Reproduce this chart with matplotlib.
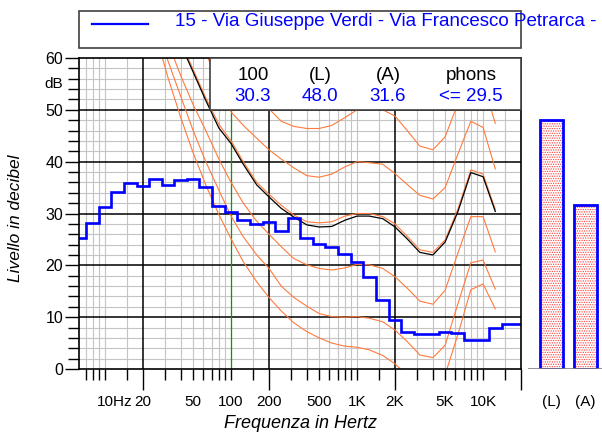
import matplotlib
matplotlib.use("Agg")
import matplotlib.pyplot as plt
import matplotlib.transforms as mtransforms
from matplotlib.patches import Rectangle
from matplotlib.lines import Line2D

plt.rcParams['font.family'] = ['Liberation Sans', 'DejaVu Sans']
plt.rcParams['hatch.linewidth'] = 0.6

# measured 1/3 octave band levels (dB)
bands = [6.3, 8, 10, 12.5, 16, 20, 25, 31.5, 40, 50, 63, 80, 100, 125, 160,
         200, 250, 315, 400, 500, 630, 800, 1000, 1250, 1600, 2000, 2500,
         3150, 4000, 5000, 6300, 8000, 10000, 12500, 16000, 20000]
levels = [25.2, 28.2, 31.2, 34.1, 35.8, 35.4, 36.6, 35.5, 36.5, 36.7, 35.2,
          31.5, 30.3, 28.7, 27.9, 28.4, 26.7, 29.1, 25.3, 24.2, 23.6, 22.1,
          20.7, 17.7, 13.4, 9.5, 7.2, 6.7, 6.7, 7.1, 6.9, 5.6, 5.6, 8.0,
          8.6, 8.7]

# equal loudness contours (dB)
iso_freqs = [20, 25, 31.5, 40, 50, 63, 80, 100, 125, 160, 200, 250, 315, 400,
             500, 630, 800, 1000, 1250, 1600, 2000, 2500, 3150, 4000, 5000,
             6300, 8000, 10000, 12500]
threshold = [74.3, 65.0, 56.3, 48.4, 41.7, 35.5, 29.8, 25.1, 20.7, 16.8, 13.8,
             11.2, 8.9, 7.2, 6.0, 5.0, 4.4, 4.2, 3.7, 2.6, 1.0, -1.2, -3.6,
             -3.9, -1.1, 6.6, 15.3, 16.4, 11.6]
phon10 = [80.0, 70.5, 59.5, 52.5, 46.0, 40.0, 34.5, 29.5, 25.5, 22.0, 19.4,
          16.0, 13.8, 12.1, 10.7, 10.1, 10.0, 10.1, 9.8, 9.1, 7.5, 5.3, 2.7,
          2.2, 4.6, 12.5, 20.5, 21.0, 15.4]
phon20 = [85.0, 74.0, 63.0, 56.5, 51.0, 46.0, 40.5, 36.0, 32.0, 28.5, 26.0,
          23.6, 21.3, 20.1, 19.4, 19.1, 19.5, 20.2, 20.1, 19.4, 17.8, 15.6,
          13.1, 12.5, 15.2, 22.3, 29.4, 29.4, 22.6]
phon30 = [90.0, 80.0, 71.0, 63.0, 57.8, 52.3, 47.2, 44.0, 40.0, 36.0, 33.7,
          31.6, 29.7, 28.4, 28.2, 28.4, 29.5, 30.0, 30.0, 29.4, 28.0, 25.6,
          23.0, 22.5, 24.9, 30.8, 38.4, 37.6, 30.8]
phon40 = [97.0, 87.0, 79.0, 72.0, 66.5, 61.0, 55.0, 49.6, 47.0, 44.5, 42.3,
          40.5, 38.8, 37.3, 37.0, 37.6, 39.0, 40.0, 39.8, 39.5, 37.7, 35.6,
          33.5, 32.8, 35.0, 41.4, 47.8, 46.6, 38.6]
phon50 = [102.0, 92.0, 84.0, 77.0, 71.0, 66.0, 61.0, 57.0, 54.5, 52.0, 50.2,
          47.8, 46.8, 46.4, 46.4, 47.0, 48.5, 50.0, 50.3, 50.0, 48.8, 46.0,
          43.0, 42.3, 44.8, 51.2, 57.5, 55.2, 47.4]
contour_freqs = [40, 50, 63, 80, 100, 125, 160, 200, 250, 315, 400, 500, 630,
                 800, 1000, 1250, 1600, 2000, 2500, 3150, 4000, 5000, 6300,
                 8000, 10000, 12500]
contour = [62.6, 57.3, 51.8, 46.5, 43.5, 39.5, 35.5, 33.2, 31.0, 29.3, 27.8,
           27.4, 27.5, 28.7, 29.5, 29.5, 29.0, 27.4, 25.1, 22.5, 22.0, 24.5,
           30.3, 37.9, 37.1, 30.4]

legend_text = '15 - Via Giuseppe Verdi - Via Francesco Petrarca -'
summary_heads = ['100', '(L)', '(A)', 'phons']
summary_values = ['30.3', '48.0', '31.6', '<= 29.5']
bar_labels = ['(L)', '(A)']
bar_values = [48.0, 31.6]

xtick_freqs = [20, 50, 100, 200, 500, 1000, 2000, 5000, 10000]
xtick_labels = ['20', '50', '100', '200', '500', '1K', '2K', '5K', '10K']

W, H = 602, 434
BLUE = '#0000ff'
ORANGE = '#ff7a3c'
GRAY = '#c4c4c4'


def frame(x0, y0, x1, y1):
    return [x0 / W, 1 - y1 / H, (x1 - x0) / W, (y1 - y0) / H]


fig = plt.figure(figsize=(W / 100, H / 100), dpi=100)
ax = fig.add_axes(frame(79, 58, 521, 369))
ax.set_xscale('log')
ax.set_xlim(6.21, 20000)
ax.set_ylim(0, 60)

# grid
minor_f = [7, 8, 9, 10, 15, 30, 40, 50, 60, 70, 80, 90, 100, 150, 300, 400,
           500, 600, 700, 800, 900, 1000, 1500, 3000, 4000, 5000, 6000, 7000,
           8000, 9000, 10000, 15000]
for f in minor_f:
    ax.axvline(f, color=GRAY, lw=0.8, zorder=0)
for f in [20, 200, 2000]:
    ax.axvline(f, color='black', lw=1.1, zorder=0.5)
for v in range(2, 60, 2):
    if v % 10:
        ax.axhline(v, color=GRAY, lw=0.8, zorder=0)
    else:
        ax.axhline(v, color='black', lw=1.1, zorder=0.5)

ax.axvline(100, color='#00a000', lw=0.9, zorder=1)

for curve in [threshold, phon10, phon20, phon30, phon40, phon50]:
    ax.plot(iso_freqs, curve, color=ORANGE, lw=0.8, zorder=2)
ax.plot(contour_freqs, contour, color='black', lw=0.9, zorder=2.5)

# band edges between neighbouring centres
edges = [bands[0] / 1.26 ** 0.5]
edges += [(a * b) ** 0.5 for a, b in zip(bands[:-1], bands[1:])]
edges += [bands[-1] * 1.26 ** 0.5]
ax.stairs(levels, edges, baseline=None, color=BLUE, lw=1.9, zorder=3)

# summary box
ax.add_patch(Rectangle((0.2964, 50 / 60), 1 - 0.2964, 10 / 60,
                       transform=ax.transAxes, facecolor='white',
                       edgecolor='#404040', lw=1.2, zorder=5, clip_on=False))
for xp, head, val in zip([253, 320, 388, 471], summary_heads, summary_values):
    xf = (xp - 79) / 442
    ax.text(xf, (369 - 75) / 311, head, transform=ax.transAxes, ha='center',
            va='center', fontsize=13.5, color='black', zorder=6)
    ax.text(xf, (369 - 96) / 311, val, transform=ax.transAxes, ha='center',
            va='center', fontsize=13.5, color=BLUE, zorder=6)

# axes ticks
ax.set_xticks([20, 200, 2000, 20000])
ax.set_xticks(minor_f, minor=True)
ax.tick_params(axis='x', which='major', length=15, width=1, labelbottom=False)
ax.tick_params(axis='x', which='minor', length=8, width=1, labelbottom=False)
ax.set_yticks(range(0, 61, 10))
ax.set_yticks(range(0, 61, 2), minor=True)
ax.set_yticklabels(['0', '10', '20', '30', '40', '50', '60'])
ax.tick_params(axis='y', which='major', length=10, width=1, pad=1.5,
               labelsize=11.5)
ax.tick_params(axis='y', which='minor', length=8, width=1)
for s in ax.spines.values():
    s.set_linewidth(1.2)
    s.set_zorder(4)
ax.text(-16 / 442, 55 / 60, 'dB', transform=ax.transAxes, ha='right',
        va='center', fontsize=11)

xtrans = mtransforms.blended_transform_factory(ax.transData, ax.transAxes)
for f, lab in zip(xtick_freqs, xtick_labels):
    ax.text(f, -33 / 311, lab, transform=xtrans, ha='center', va='center',
            fontsize=11)
ax.text(18 / 442, -33 / 311, '10Hz', transform=ax.transAxes, ha='left',
        va='center', fontsize=11)

fig.text(16 / W, 1 - 218 / H, 'Livello in decibel', rotation=90,
         ha='center', va='center', fontsize=12.5, style='italic')
fig.text(301 / W, 1 - 423 / H, 'Frequenza in Hertz', ha='center',
         va='center', fontsize=13, style='italic')

# legend box
fig.add_artist(Rectangle((79 / W, 1 - 48 / H), 442 / W, 37 / H,
                         transform=fig.transFigure, fill=False,
                         edgecolor='#404040', lw=1.2))
fig.add_artist(Line2D([92 / W, 148 / W], [1 - 24 / H] * 2,
                      transform=fig.transFigure, color=BLUE, lw=1.6))
fig.text(175 / W, 1 - 22 / H, legend_text, ha='left', va='center',
         fontsize=13.5, color=BLUE)

# L / A bars
bx = fig.add_axes(frame(528, 58, 602, 369))
bx.set_xlim(0, 74)
bx.set_ylim(0, 60)
bx.axis('off')
bx.axhline(0, color='#808080', lw=1.2)
bar_x = [23.5, 57.5]
bx.bar(bar_x, bar_values, width=23, facecolor='white', edgecolor='#ff4040',
       hatch='.......', lw=0)
bx.bar(bar_x, bar_values, width=23, fill=False, edgecolor=BLUE, lw=2)
btrans = mtransforms.blended_transform_factory(bx.transData, bx.transAxes)
for xb, lab in zip(bar_x, bar_labels):
    bx.text(xb, -33 / 311, lab, transform=btrans, ha='center', va='center',
            fontsize=11)

fig.savefig('out.png', dpi=100)
